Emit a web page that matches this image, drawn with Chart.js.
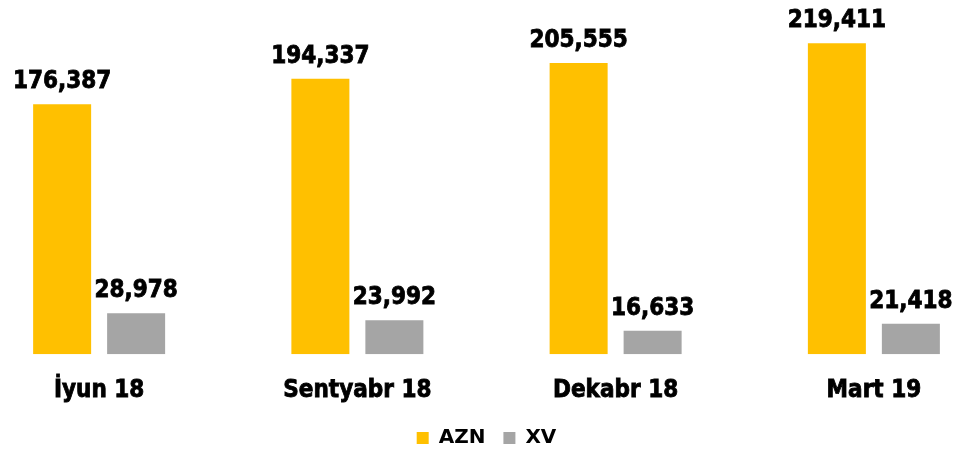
<!DOCTYPE html>
<html>
<head>
<meta charset="utf-8">
<script src="https://cdn.jsdelivr.net/npm/chart.js@4/dist/chart.umd.min.js"></script>
<style>
  html, body { margin: 0; padding: 0; background: #fff; overflow: hidden; }
  #wrap { width: 960px; height: 451px; overflow: hidden; position: relative; }
  #chart { position: absolute; left: -30px; top: 0; }
</style>
</head>
<body>
<div id="wrap"><canvas id="chart" width="1033" height="458"></canvas></div>
<script>
// values
const categories = ['İyun 18', 'Sentyabr 18', 'Dekabr 18', 'Mart 19'];
const aznValues = [176387, 194337, 205555, 219411];
const xvValues = [28978, 23992, 16633, 21418];

const FONT = '"DejaVu Sans Condensed", "DejaVu Sans", sans-serif';

// draw value labels above every bar
const barLabels = {
    id: 'barLabels',
    afterDatasetsDraw(chart) {
        const ctx = chart.ctx;
        ctx.save();
        ctx.font = 'bold 24px ' + FONT;
        ctx.fillStyle = '#000';
        ctx.strokeStyle = '#000';
        ctx.lineWidth = 0.8;
        ctx.textAlign = 'center';
        ctx.textBaseline = 'alphabetic';
        chart.data.datasets.forEach((ds, i) => {
            chart.getDatasetMeta(i).data.forEach((bar, j) => {
                const txt = ds.data[j].toLocaleString('en-US');
                ctx.fillText(txt, bar.x, bar.y - 16);
                ctx.strokeText(txt, bar.x, bar.y - 16);
            });
        });
        ctx.restore();
    }
};

new Chart(document.getElementById('chart'), {
    type: 'bar',
    data: {
        labels: categories,
        datasets: [
            { label: 'AZN', data: aznValues, backgroundColor: '#FFC000' },
            { label: 'XV', data: xvValues, backgroundColor: '#A5A5A5' }
        ]
    },
    options: {
        responsive: false,
        devicePixelRatio: 1,
        animation: false,
        categoryPercentage: 0.573,
        barPercentage: 0.784,
        layout: { padding: 0 },
        plugins: {
            legend: {
                position: 'bottom',
                labels: {
                    boxWidth: 12,
                    boxHeight: 12,
                    padding: 18,
                    color: '#000',
                    font: { family: '"DejaVu Sans", sans-serif', size: 20, weight: 'bold' }
                }
            },
            tooltip: { enabled: false }
        },
        scales: {
            x: {
                grid: { display: false, drawTicks: false },
                border: { display: false },
                ticks: {
                    padding: 22,
                    color: '#000',
                    textStrokeColor: '#000',
                    textStrokeWidth: 0.8,
                    font: { family: FONT, size: 24, weight: 'bold' }
                },
                // tick padding is counted twice, take the lower half back
                afterFit(scale) {
                    scale.height -= 17;
                }
            },
            y: {
                display: false,
                min: 0,
                max: 250000
            }
        }
    },
    plugins: [barLabels]
});
</script>
</body>
</html>
